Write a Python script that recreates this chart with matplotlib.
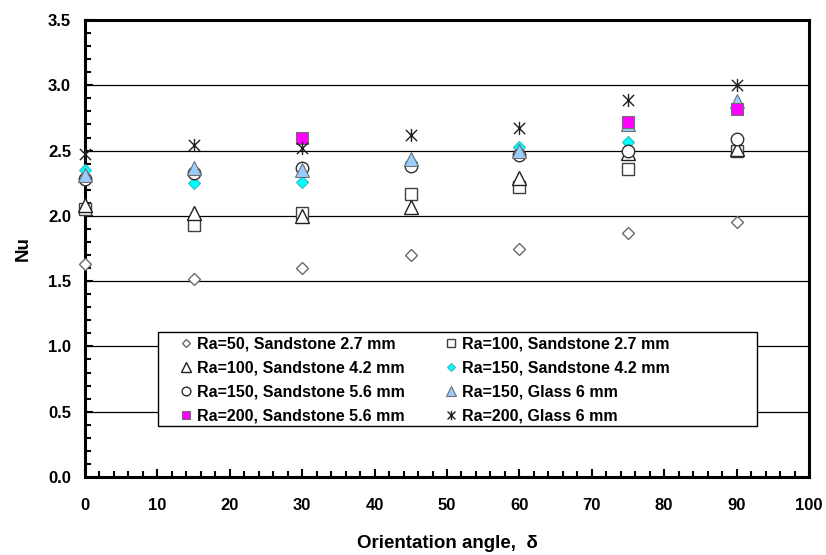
import matplotlib
matplotlib.use("Agg")
import matplotlib.pyplot as plt
from matplotlib.path import Path
from matplotlib.patches import Rectangle
from matplotlib.ticker import MultipleLocator, FormatStrFormatter

plt.rcParams['font.family'] = ['Liberation Sans', 'DejaVu Sans']
plt.rcParams['font.weight'] = 'bold'

angles = [0, 15, 30, 45, 60, 75, 90]

ra50_ss27 = [1.63, 1.52, 1.60, 1.70, 1.75, 1.87, 1.955]
ra100_ss27 = [2.05, 1.93, 2.025, 2.165, 2.22, 2.36, 2.50]
ra100_ss42 = [2.08, 2.02, 2.00, 2.065, 2.29, 2.48, 2.51]
ra150_ss42 = [2.35, 2.25, 2.26, 2.41, 2.525, 2.567, 2.83]
ra150_ss56 = [2.28, 2.33, 2.37, 2.38, 2.466, 2.50, 2.59]
ra150_gl6 = [2.31, 2.37, 2.35, 2.435, 2.50, 2.70, 2.88]
ra200_ss56_x = [30, 75, 90]
ra200_ss56 = [2.60, 2.72, 2.82]
ra200_gl6 = [2.47, 2.54, 2.52, 2.62, 2.67, 2.89, 3.00]

labels = ["Ra=50, Sandstone 2.7 mm", "Ra=100, Sandstone 2.7 mm",
          "Ra=100, Sandstone 4.2 mm", "Ra=150, Sandstone 4.2 mm",
          "Ra=150, Sandstone 5.6 mm", "Ra=150, Glass 6 mm",
          "Ra=200, Sandstone 5.6 mm", "Ra=200, Glass 6 mm"]

# Excel-style star marker: X plus vertical line
star_path = Path(
    [(0, -1), (0, 1), (-0.85, -0.85), (0.85, 0.85), (-0.85, 0.85), (0.85, -0.85)],
    [Path.MOVETO, Path.LINETO, Path.MOVETO, Path.LINETO, Path.MOVETO, Path.LINETO])

fig = plt.figure(figsize=(8.26, 5.55), dpi=100)
ax = fig.add_axes([0.1029, 0.1405, 0.8765, 0.8235])

series = [
    (angles, ra50_ss27, dict(marker='D', ms=6.2, mfc='white', mec='#6a6a6a', mew=1.0)),
    (angles, ra100_ss27, dict(marker='s', ms=8.8, mfc='white', mec='#404040', mew=1.0)),
    (angles, ra100_ss42, dict(marker='^', ms=9.5, mfc='white', mec='#202020', mew=1.0)),
    (angles, ra150_ss42, dict(marker='D', ms=6.4, mfc='#00FFFF', mec='#33bbbb', mew=0.8)),
    (angles, ra150_ss56, dict(marker='o', ms=9, mfc='white', mec='#303030', mew=1.0)),
    (angles, ra150_gl6, dict(marker='^', ms=9.5, mfc='#99CCFF', mec='#707070', mew=0.8)),
    (ra200_ss56_x, ra200_ss56, dict(marker='s', ms=8.8, mfc='#FF00FF', mec='#707070', mew=0.8)),
    (angles, ra200_gl6, dict(marker=star_path, ms=9.5, mfc='none', mec='#202020', mew=1.0)),
]

handles = []
for (xs, ys, st), lab in zip(series, labels):
    h, = ax.plot(xs, ys, linestyle='none', label=lab, clip_on=False, zorder=3, **st)
    handles.append(h)

ax.set_xlim(0, 100)
ax.set_ylim(0, 3.5)
ax.xaxis.set_major_locator(MultipleLocator(10))
ax.xaxis.set_minor_locator(MultipleLocator(2))
ax.yaxis.set_major_locator(MultipleLocator(0.5))
ax.yaxis.set_minor_locator(MultipleLocator(0.1))
ax.yaxis.set_major_formatter(FormatStrFormatter('%.1f'))

ax.grid(axis='y', which='major', color='black', linewidth=0.9)
ax.set_axisbelow(True)

for sp in ax.spines.values():
    sp.set_linewidth(2.2)
    sp.set_color('black')
    sp.set_zorder(2.5)

ax.tick_params(which='major', direction='in', length=6, width=1.5, labelsize=12)
ax.tick_params(which='minor', direction='in', length=4, width=1.5)
ax.tick_params(axis='y', which='both', left=True, right=False)
ax.tick_params(axis='x', which='both', bottom=True, top=False)
ax.tick_params(axis='x', which='major', pad=15)
ax.tick_params(axis='y', which='major', pad=10)
for t in ax.get_xticklabels() + ax.get_yticklabels():
    t.set_fontweight('bold')

ax.set_xlabel('Orientation angle,  δ', fontsize=13.5, fontweight='bold', labelpad=16)
ax.set_ylabel('Nu', fontsize=13.5, fontweight='bold', labelpad=12)

# legend box (drawn separately so the columns keep their natural spacing)
shadow = Rectangle((0.1008 + 0.002, 0.1127 - 0.004), 0.8272, 0.2057,
                   transform=ax.transAxes, facecolor='#b0b0b0', edgecolor='none',
                   zorder=3.9)
box = Rectangle((0.1008, 0.1127), 0.8272, 0.2057, transform=ax.transAxes,
                facecolor='white', edgecolor='black', linewidth=1.0, zorder=4)
ax.add_patch(shadow)
ax.add_patch(box)

# row-major legend order (matplotlib fills columns first)
order = [0, 2, 4, 6, 1, 3, 5, 7]
leg = ax.legend([handles[i] for i in order], [labels[i] for i in order],
                loc='upper left', bbox_to_anchor=(0.1307, 0.3065),
                ncol=2, fontsize=11.5, frameon=False, markerscale=0.7,
                handlelength=0.8, handletextpad=0.3, columnspacing=2.45,
                labelspacing=0.55, borderaxespad=0.0, borderpad=0.0)
leg.set_zorder(5)
for t in leg.get_texts():
    t.set_fontweight('bold')

fig.savefig('out.png', dpi=100)
